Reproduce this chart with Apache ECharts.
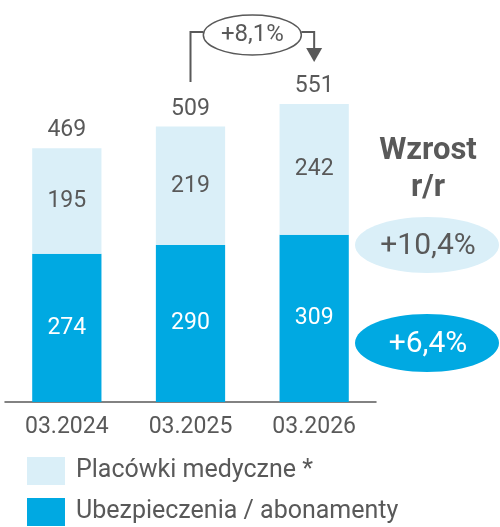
<!DOCTYPE html>
<html>
<head>
<meta charset="utf-8">
<script src="https://cdn.jsdelivr.net/npm/echarts@6/dist/echarts.min.js"></script>
<style>
  html, body { margin: 0; padding: 0; background: #fff; }
  #main { width: 500px; height: 527px; }
</style>
</head>
<body>
<div id="main"></div>
<script>
const categories = ['03.2024', '03.2025', '03.2026'];
const placowki = [195, 219, 242];
const ubezpieczenia = [274, 290, 309];
const totals = [469, 509, 551];
const growth = ['+10,4%', '+6,4%'];
const totalGrowth = '+8,1%';

const dark = '#00a9e2';
const light = '#daeff8';
const textColor = '#595959';
const font = 'Roboto, sans-serif';

var myChart = echarts.init(document.getElementById('main'));

option = {
    animation: false,
    textStyle: { fontFamily: font },
    grid: { left: 5, right: 124, top: 0, bottom: 125 },
    legend: {
        orient: 'vertical',
        left: 27,
        top: 457,
        padding: 0,
        height: 70,
        icon: 'rect',
        itemWidth: 38,
        itemHeight: 28,
        itemGap: 13,
        data: ['Placówki medyczne *', 'Ubezpieczenia / abonamenty'],
        textStyle: { fontSize: 25, color: textColor, fontFamily: font, padding: [0, 0, 0, 6] }
    },
    xAxis: {
        type: 'category',
        data: categories,
        axisLine: { lineStyle: { color: textColor, width: 1.5 } },
        axisTick: { show: false },
        axisLabel: { fontSize: 23, color: textColor, margin: 14 }
    },
    yAxis: {
        type: 'value',
        min: 0,
        max: 743,
        show: false
    },
    series: [{
        name: 'Ubezpieczenia / abonamenty',
        type: 'bar',
        stack: 'a',
        barWidth: '56%',
        barGap: '-100%',
        data: ubezpieczenia,
        itemStyle: { color: dark },
        label: { show: true, position: 'inside', fontSize: 23, color: '#fff' }
    }, {
        name: 'Placówki medyczne *',
        type: 'bar',
        stack: 'a',
        barWidth: '56%',
        barGap: '-100%',
        data: placowki,
        itemStyle: { color: light },
        label: { show: true, position: 'inside', fontSize: 23, color: textColor }
    }, {
        name: 'total',
        type: 'bar',
        barWidth: '56%',
        barGap: '-100%',
        data: totals,
        z: 0,
        itemStyle: { color: 'rgba(0,0,0,0)' },
        label: { show: true, position: 'top', distance: 6, fontSize: 23, color: textColor },
        silent: true
    }]
};

myChart.setOption(option);

// adnotacje: wzrost r/r po prawej i strzałka nad słupkami
const xa = myChart.convertToPixel({ xAxisIndex: 0 }, categories[1]);
const xb = myChart.convertToPixel({ xAxisIndex: 0 }, categories[2]);
const cx = (xa + xb) / 2;
const lineY = 32;

myChart.setOption({
    graphic: [
        { type: 'text', style: { text: 'Wzrost', fontSize: 31, fontWeight: 'bold', fill: textColor, fontFamily: font, x: 428, y: 151, align: 'center', verticalAlign: 'middle' } },
        { type: 'text', style: { text: 'r/r', fontSize: 31, fontWeight: 'bold', fill: textColor, fontFamily: font, x: 428, y: 188, align: 'center', verticalAlign: 'middle' } },
        { type: 'ellipse', shape: { cx: 427, cy: 245, rx: 72, ry: 28 }, style: { fill: light } },
        { type: 'text', style: { text: growth[0], fontSize: 30, fill: textColor, fontFamily: font, x: 428, y: 246, align: 'center', verticalAlign: 'middle' } },
        { type: 'ellipse', shape: { cx: 427, cy: 343, rx: 72, ry: 29 }, style: { fill: dark } },
        { type: 'text', style: { text: growth[1], fontSize: 30, fill: '#fff', fontFamily: font, x: 428, y: 344, align: 'center', verticalAlign: 'middle' } },
        { type: 'polyline', shape: { points: [[xa, 82], [xa, lineY], [cx - 49, lineY]] }, style: { stroke: textColor, lineWidth: 2, fill: null } },
        { type: 'polyline', shape: { points: [[cx + 49, lineY], [xb, lineY], [xb, 50]] }, style: { stroke: textColor, lineWidth: 2, fill: null } },
        { type: 'polygon', shape: { points: [[xb - 8, 48], [xb + 8, 48], [xb, 62]] }, style: { fill: textColor } },
        { type: 'ellipse', shape: { cx: cx, cy: 35, rx: 49, ry: 20 }, style: { fill: '#fff', stroke: textColor, lineWidth: 1.5 } },
        { type: 'text', style: { text: totalGrowth, fontSize: 24, fill: textColor, fontFamily: font, x: cx, y: 35, align: 'center', verticalAlign: 'middle' } }
    ]
});
</script>
</body>
</html>
